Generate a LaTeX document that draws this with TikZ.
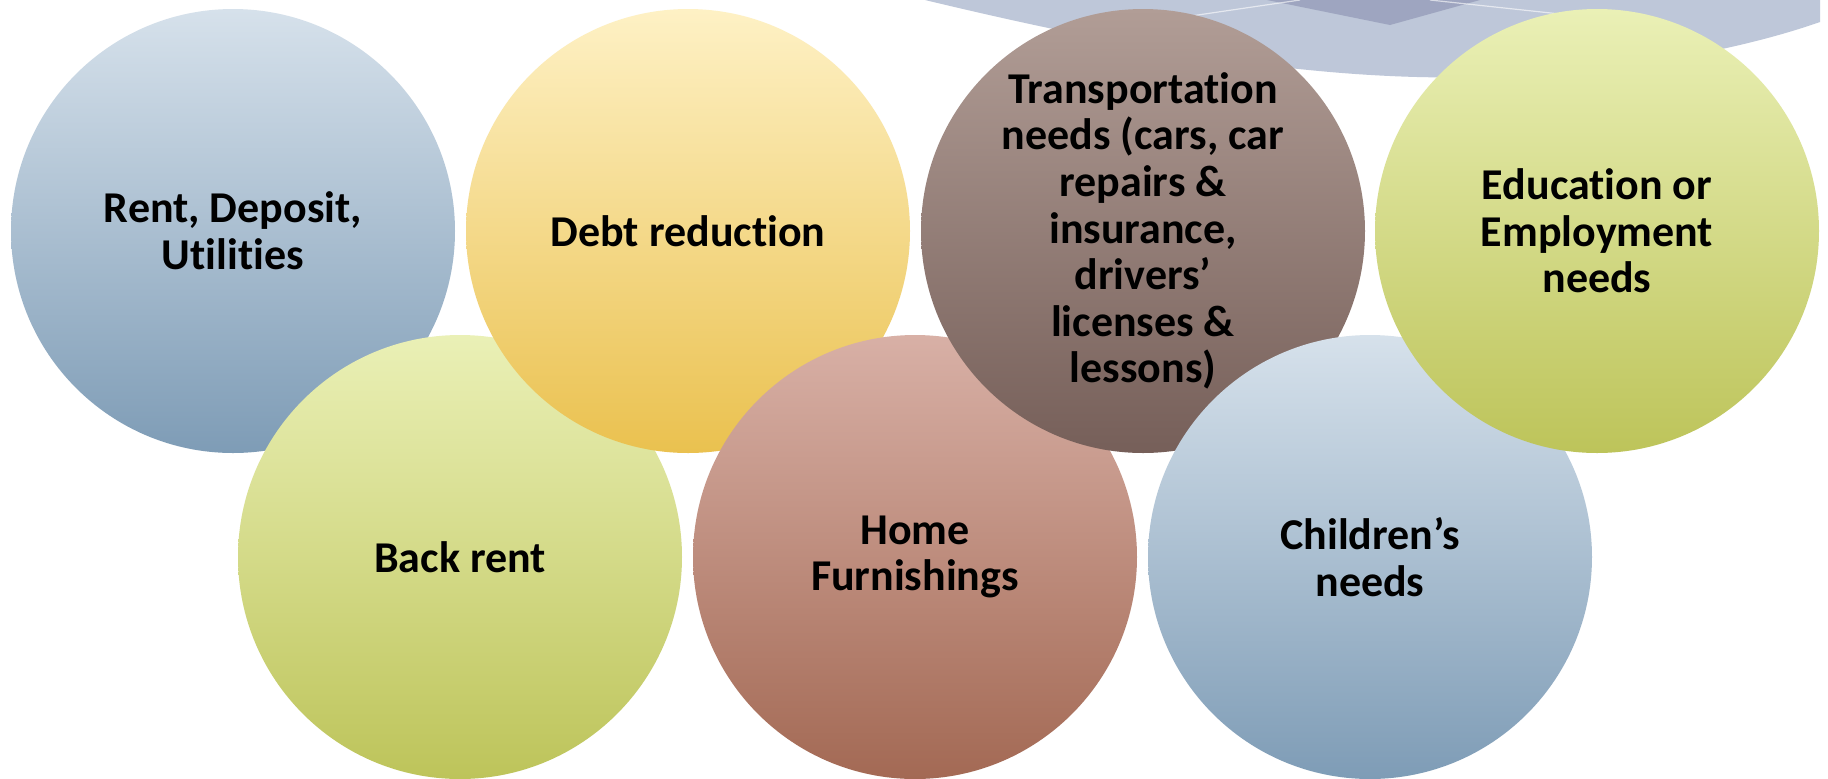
\documentclass[tikz,border=0pt]{standalone}
\usepackage{fontspec}
\setmainfont{Carlito}[Ligatures=CommonOff]
\definecolor{blueT}{HTML}{D6E1EB}
\definecolor{blueB}{HTML}{7E9CB6}
\definecolor{yelT}{HTML}{FEF1C5}
\definecolor{yelB}{HTML}{EAC14F}
\definecolor{brnT}{HTML}{B19D96}
\definecolor{brnB}{HTML}{765F59}
\definecolor{grnT}{HTML}{EAF0B6}
\definecolor{grnB}{HTML}{BDC45A}
\definecolor{pnkT}{HTML}{D8B0A6}
\definecolor{pnkB}{HTML}{A36954}
\definecolor{bandL}{HTML}{BEC7D9}
\definecolor{bandD}{HTML}{9EA5C0}
\tikzset{
  bubble/.style={circle, inner sep=0pt, minimum size=222pt, align=center,
    font=\fontsize{22pt}{23.3pt}\selectfont\bfseries, text=black},
  bluebub/.style={bubble, top color=blueT, bottom color=blueB},
  yelbub/.style={bubble, top color=yelT, bottom color=yelB},
  brnbub/.style={bubble, top color=brnT, bottom color=brnB},
  grnbub/.style={bubble, top color=grnT, bottom color=grnB},
  pnkbub/.style={bubble, top color=pnkT, bottom color=pnkB}
}
\begin{document}
\begin{tikzpicture}[x=0.5pt, y=-0.5pt]
\useasboundingbox[fill=white] (0,0) rectangle (1828,778);
% background band
\fill[bandL] (925,0) .. controls (1100,42) and (1300,82) .. (1480,77)
  .. controls (1620,73) and (1740,50) .. (1820,22) -- (1820,0) -- cycle;
\fill[bandD] (1267,0) -- (1390,25) -- (1480,0) -- cycle;
\draw[white, opacity=0.6, line width=0.6pt] (1150,22) -- (1300,0);
\draw[white, opacity=0.6, line width=0.6pt] (1430,0) -- (1560,14);
% bubbles
\node[bluebub] (rent)  at (233,231) {Rent, Deposit,\\Utilities};
\node[grnbub]  (back)  at (460,557) {Back rent};
\node[yelbub]  (debt)  at (688,231) {Debt reduction};
\node[pnkbub]  (home)  at (915,557) {Home\\Furnishings};
\node[brnbub]  (trans) at (1143,231) {Transportation\\needs (cars, car\\repairs \&\\insurance,\\drivers’\\licenses \&\\lessons)};
\node[bluebub] (kids)  at (1370,557) {Children’s\\needs};
\node[grnbub]  (edu)   at (1597,231) {Education or\\Employment\\needs};
\end{tikzpicture}
\end{document}
